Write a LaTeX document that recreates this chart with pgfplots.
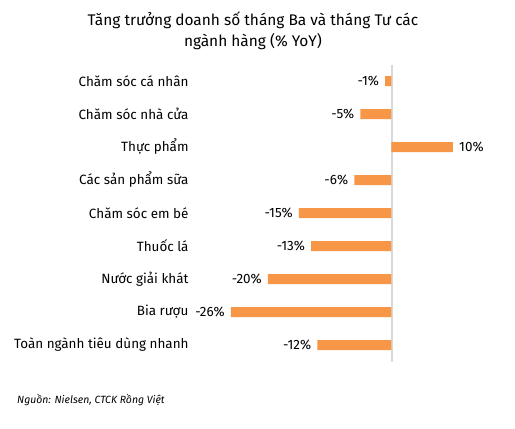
\documentclass[border=0pt]{standalone}
\usepackage{pgfplots}
\pgfplotsset{compat=1.18}
\usepackage{fontspec}
\setmainfont{Fira Sans}
\definecolor{barorange}{HTML}{F79646}
\definecolor{axisgray}{HTML}{D9D9D9}
\begin{document}
\begin{tikzpicture}
\useasboundingbox (-231bp,-67.5bp) rectangle (284bp,361.5bp);
\begin{axis}[
  at={(0,0)}, anchor=south west,
  scale only axis, width=222bp, height=297bp,
  xbar, bar width=10bp,
  xmin=-26, xmax=10, ymin=-0.5, ymax=8.5, y dir=reverse,
  axis line style={draw=none}, tick style={draw=none},
  xtick=\empty, ytick={0,...,8},
  yticklabels={Chăm sóc cá nhân, Chăm sóc nhà cửa, Thực phẩm, Các sản phẩm sữa,
    Chăm sóc em bé, Thuốc lá, Nước giải khát, Bia rượu, Toàn ngành tiêu dùng nhanh},
  yticklabel style={font=\fontsize{13.5}{15}\selectfont, anchor=east, inner sep=0pt, xshift=-38bp},
  clip=false,
  nodes near coords={\pgfmathprintnumber[assume math mode=true]{\pgfplotspointmeta}\%},
  nodes near coords style={font=\fontsize{13.5}{15}\selectfont, inner sep=6bp},
]
\draw[axisgray, line width=1.5bp] (axis cs:0.1,-0.5) -- (axis cs:0.1,8.5);
\addplot[fill=barorange, draw=none] coordinates {
(-1,0)
(-5,1)
(10,2)
(-6,3)
(-15,4)
(-13,5)
(-20,6)
(-26,7)
(-12,8)
};
\end{axis}
\node[font=\fontsize{15.5}{18}\selectfont] at (22bp,341.5bp) {Tăng trưởng doanh số tháng Ba và tháng Tư các};
\node[font=\fontsize{15.5}{18}\selectfont] at (22bp,319.5bp) {ngành hàng (\% YoY)};
\node[font=\itshape\fontsize{10.5}{12}\selectfont, anchor=west, inner sep=0pt] at (-214bp,-38.5bp) {Nguồn: Nielsen, CTCK Rồng Việt};
\end{tikzpicture}
\end{document}
